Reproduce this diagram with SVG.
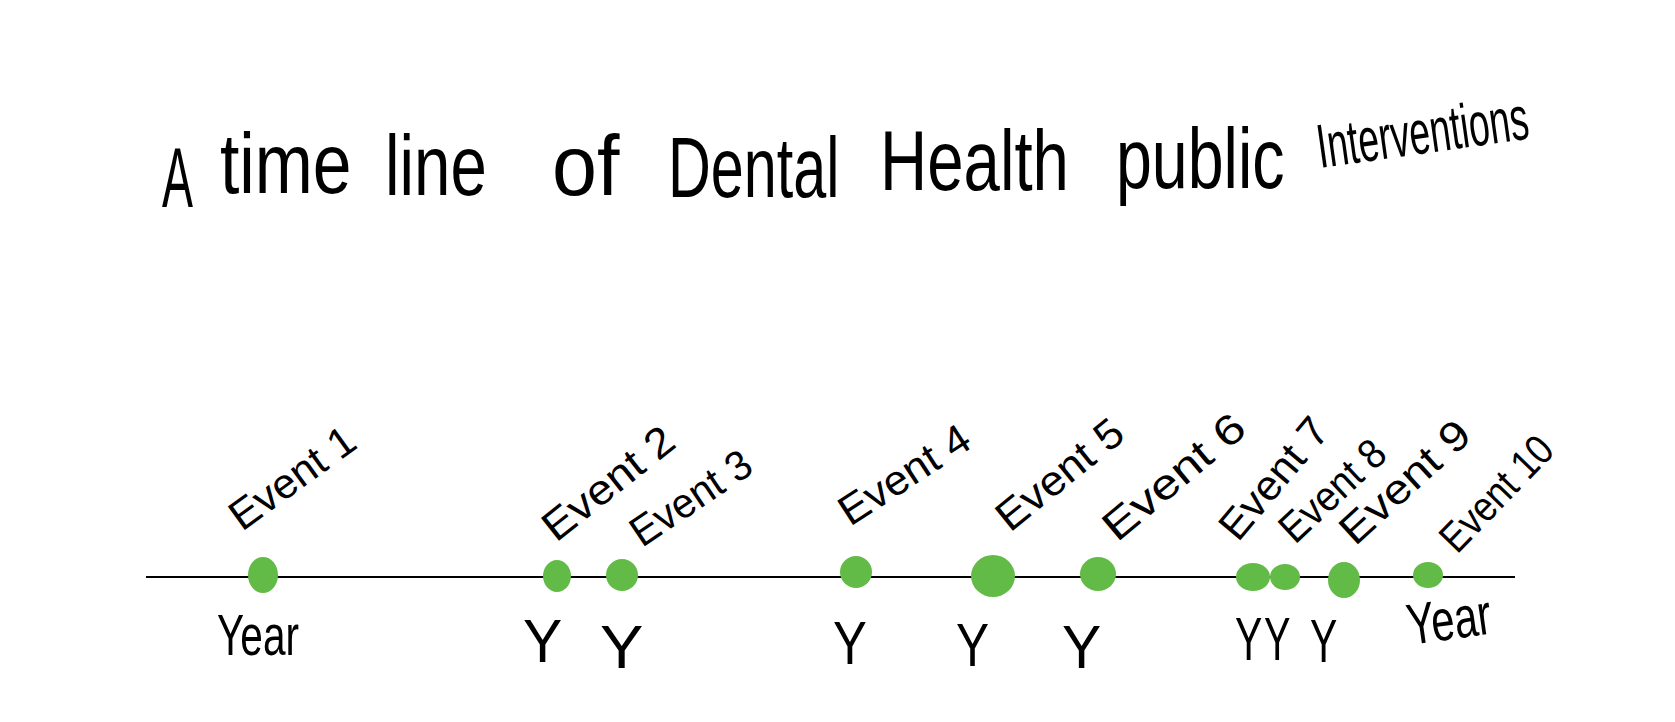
<svg xmlns="http://www.w3.org/2000/svg" width="1675" height="722" viewBox="0 0 1675 722">
<style>
text{font-family:"Liberation Sans","DejaVu Sans",sans-serif;fill:#000}
.t{font-size:86px}
.ev{font-size:42px}
.y{font-size:62px}
.yr{font-size:58px}
.dot{fill:#62bb46}
.axis{stroke:#000;stroke-width:2;fill:none}
</style>
<rect width="1675" height="722" fill="#fff"/>
<g id="title">
<text class="t" transform="translate(162,207) scale(0.54,1)">A</text>
<text class="t" transform="translate(220,193) scale(0.81,1)">time</text>
<text class="t" transform="translate(385,195) scale(0.76,1)">line</text>
<text class="t" transform="translate(552,195) scale(0.94,1)">of</text>
<text class="t" transform="translate(668,197) scale(0.69,1)">Dental</text>
<text class="t" transform="translate(880,190) scale(0.76,1)">Health</text>
<text class="t" transform="translate(1116,188) scale(0.75,1)">public</text>
<text font-size="62" transform="translate(1320,168) rotate(-8) scale(0.6,1)">Interventions</text>
</g>
<g id="connectors">
<line class="axis" x1="146" y1="577" x2="1515" y2="577"/>
</g>
<g id="event1"><ellipse class="dot" cx="263" cy="575" rx="15" ry="18"/><text class="ev" transform="translate(242,532) rotate(-36)" textLength="145" lengthAdjust="spacingAndGlyphs">Event 1</text><text class="yr" transform="translate(217,655) scale(0.7,1)">Year</text></g>
<g id="event2"><ellipse class="dot" cx="557" cy="576" rx="14" ry="16"/><text class="ev" transform="translate(556,543) rotate(-38.5)" textLength="156" lengthAdjust="spacingAndGlyphs">Event 2</text><text class="y" transform="translate(523,662) scale(0.95,1)">Y</text></g>
<g id="event3"><ellipse class="dot" cx="622" cy="575" rx="16" ry="16"/><text class="ev" transform="translate(642,548) rotate(-34)" textLength="137" lengthAdjust="spacingAndGlyphs">Event 3</text><text class="y" transform="translate(600,668) scale(1.05,1)">Y</text></g>
<g id="event4"><ellipse class="dot" cx="856" cy="572" rx="16" ry="16"/><text class="ev" transform="translate(850,527) rotate(-33)" textLength="148" lengthAdjust="spacingAndGlyphs">Event 4</text><text class="y" transform="translate(833,664) scale(0.82,1)">Y</text></g>
<g id="event5"><ellipse class="dot" cx="993" cy="576" rx="22" ry="21"/><text class="ev" transform="translate(1010,533) rotate(-39)" textLength="151" lengthAdjust="spacingAndGlyphs">Event 5</text><text class="y" transform="translate(956,666) scale(0.8,1)">Y</text></g>
<g id="event6"><ellipse class="dot" cx="1098" cy="574" rx="18" ry="17"/><text class="ev" transform="translate(1117,543) rotate(-40)" textLength="172" lengthAdjust="spacingAndGlyphs">Event 6</text><text class="y" transform="translate(1062,668) scale(0.95,1)">Y</text></g>
<g id="event7"><ellipse class="dot" cx="1253" cy="577" rx="17" ry="14"/><text class="ev" transform="translate(1238,543) rotate(-50)" textLength="145" lengthAdjust="spacingAndGlyphs">Event 7</text><text class="y" transform="translate(1235,660) scale(0.66,1)">Y</text></g>
<g id="event8"><ellipse class="dot" cx="1285" cy="577" rx="15" ry="13"/><text class="ev" transform="translate(1295,545) rotate(-43)" textLength="129" lengthAdjust="spacingAndGlyphs">Event 8</text><text class="y" transform="translate(1264,660) scale(0.64,1)">Y</text></g>
<g id="event9"><ellipse class="dot" cx="1344" cy="580" rx="16" ry="18"/><text class="ev" transform="translate(1355,547) rotate(-42.5)" textLength="161" lengthAdjust="spacingAndGlyphs">Event 9</text><text class="y" transform="translate(1310,662) scale(0.66,1)">Y</text></g>
<g id="event10"><ellipse class="dot" cx="1428" cy="575" rx="15" ry="13"/><text class="ev" transform="translate(1457,555) rotate(-46)" textLength="143" lengthAdjust="spacingAndGlyphs">Event 10</text><text class="yr" transform="translate(1410,645) rotate(-8) scale(0.72,1)">Year</text></g>
</svg>
